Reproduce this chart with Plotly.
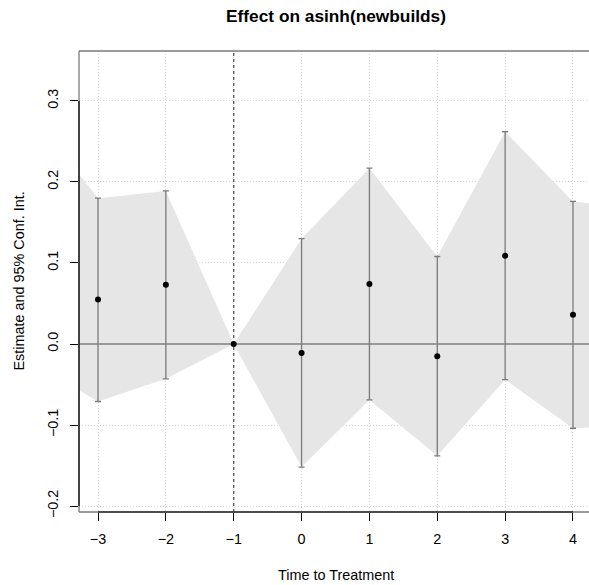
import plotly.graph_objects as go

# Event-study estimates
periods = [-3, -2, -1, 0, 1, 2, 3, 4]
estimates = [0.055, 0.073, 0.0, -0.011, 0.074, -0.015, 0.109, 0.036]
ci_low = [-0.071, -0.043, 0.0, -0.152, -0.069, -0.138, -0.044, -0.104]
ci_high = [0.180, 0.189, 0.0, 0.130, 0.217, 0.108, 0.262, 0.176]

# Confidence band continues beyond the visible window
band_x = [-4] + periods + [5]
band_low = [-0.021] + ci_low + [-0.100]
band_high = [0.287] + ci_high + [0.166]

y_ticks = [-0.2, -0.1, 0.0, 0.1, 0.2, 0.3]
x_ticks = periods
ref_period = -1

FONT = "Liberation Sans, Arial, Helvetica, sans-serif"
BAND = "#e6e6e6"
W, H = 589, 585
L, R, T, B = 79, 0, 51, 73
FS = 14.4

fig = go.Figure()

fig.add_trace(go.Scatter(x=band_x, y=band_low, mode="lines",
                         line=dict(width=0, color=BAND), hoverinfo="skip",
                         showlegend=False))
fig.add_trace(go.Scatter(x=band_x, y=band_high, mode="lines", fill="tonexty",
                         fillcolor=BAND, line=dict(width=0, color=BAND),
                         hoverinfo="skip", showlegend=False))

# reference lines
fig.add_trace(go.Scatter(x=[-10, 10], y=[0, 0], mode="lines",
                         line=dict(color="#808080", width=1.3),
                         hoverinfo="skip", showlegend=False))
fig.add_trace(go.Scatter(x=[ref_period, ref_period], y=[-1, 1], mode="lines",
                         line=dict(color="#555555", width=1.3, dash="3px,3px"),
                         hoverinfo="skip", showlegend=False))

err_plus = [h - e for h, e in zip(ci_high, estimates)]
err_minus = [e - l for e, l in zip(estimates, ci_low)]
fig.add_trace(go.Scatter(
    x=periods, y=estimates, mode="markers",
    marker=dict(color="black", size=6),
    error_y=dict(type="data", symmetric=False, array=err_plus,
                 arrayminus=err_minus, color="#7a7a7a", thickness=1.3,
                 width=3),
    showlegend=False))

# grey box (top, left, bottom)
BOX = "#7a7a7a"
fig.add_shape(type="line", xref="paper", yref="paper", x0=0, x1=1, y0=1, y1=1,
              line=dict(color=BOX, width=1.3))
fig.add_shape(type="line", xref="paper", yref="paper", x0=0, x1=0, y0=0, y1=1,
              line=dict(color=BOX, width=1.3))
fig.add_shape(type="line", xref="paper", yref="paper", x0=0, x1=1, y0=0, y1=0,
              line=dict(color=BOX, width=1.3))
# black axis segments spanning the tick range
fig.add_shape(type="line", xref="x", yref="paper", x0=x_ticks[0],
              x1=x_ticks[-1], y0=0, y1=0, line=dict(color="black", width=1.2))
fig.add_shape(type="line", xref="paper", yref="y", x0=0, x1=0,
              y0=y_ticks[0], y1=y_ticks[-1],
              line=dict(color="black", width=1.2))

fig.add_annotation(text="Time to Treatment", xref="paper", yref="paper",
                   x=(336 - L) / (W - L), y=-(575 - (H - B)) / (H - T - B),
                   xanchor="center", yanchor="middle", showarrow=False,
                   font=dict(size=FS))
fig.add_annotation(text="Estimate and 95% Conf. Int.", xref="paper",
                   yref="paper", x=-(L - 18) / (W - L), y=0.5,
                   xanchor="center", yanchor="middle", textangle=-90,
                   showarrow=False, font=dict(size=FS))

fig.update_layout(
    width=W, height=H,
    margin=dict(l=L, r=R, t=T, b=B, autoexpand=False),
    paper_bgcolor="white", plot_bgcolor="white",
    font=dict(family=FONT, size=FS, color="black"),
    title=dict(text="<b>Effect on asinh(newbuilds)</b>", x=336 / W,
               xanchor="center", y=1 - 16 / H, yanchor="middle",
               font=dict(size=17.3)),
    xaxis=dict(range=[-3.28, 4.236], tickvals=x_ticks, automargin=False,
               ticks="outside", ticklen=8, tickcolor="black",
               ticklabelstandoff=6, showline=False,
               showgrid=True, gridcolor="#d6d6d6", griddash="1px,2px",
               gridwidth=1, zeroline=False, tickfont=dict(size=FS)),
    yaxis=dict(range=[-0.2074, 0.3617], tickvals=y_ticks, tickformat=".1f",
               automargin=False, ticklabelstandoff=6, showline=False,
               ticks="outside", ticklen=8, tickcolor="black", tickangle=-90,
               showgrid=True, gridcolor="#d6d6d6", griddash="1px,2px",
               gridwidth=1, zeroline=False, tickfont=dict(size=FS)),
)

fig.write_html("out.html", config={"displayModeBar": False},
               post_script="document.body.style.margin='0';"
                           "document.body.style.overflow='hidden';")
